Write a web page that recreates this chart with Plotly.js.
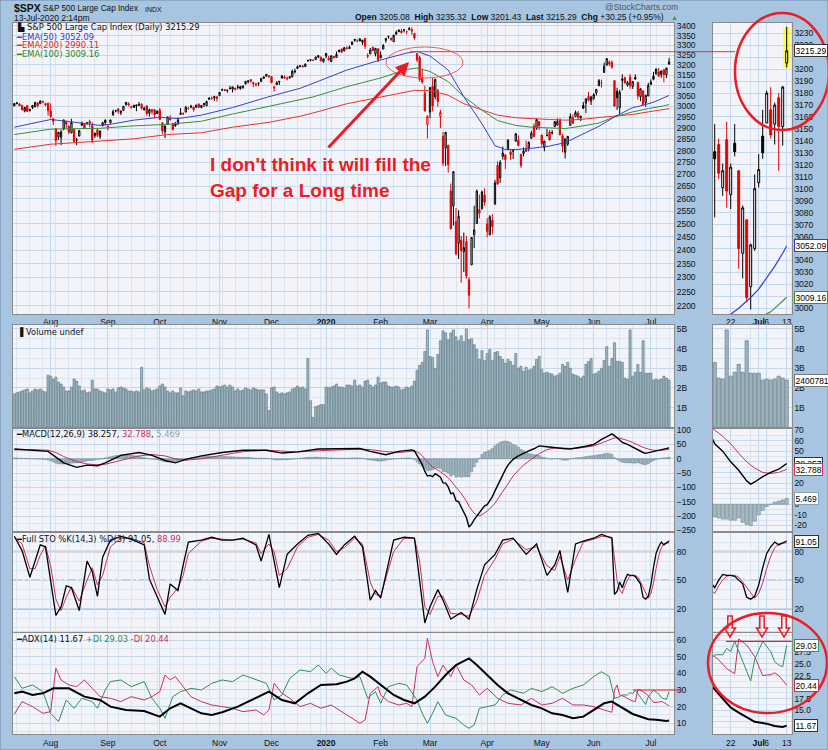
<!DOCTYPE html>
<html><head><meta charset="utf-8">
<script src="https://cdn.plot.ly/plotly-3.0.1.min.js"></script>
<style>html,body{margin:0;padding:0;background:#a7c4e0;}#chart{width:828px;height:750px;}</style>
</head><body><div id="chart"></div>
<script>
// ---------------- DATA ----------------
const dates = [
'2019-07-12','2019-07-15','2019-07-16','2019-07-17','2019-07-18','2019-07-19','2019-07-22','2019-07-23','2019-07-24','2019-07-25','2019-07-26','2019-07-29','2019-07-30','2019-07-31',
'2019-08-01','2019-08-02','2019-08-05','2019-08-06','2019-08-07','2019-08-08','2019-08-09','2019-08-12','2019-08-13','2019-08-14','2019-08-15','2019-08-16','2019-08-19','2019-08-20','2019-08-21','2019-08-22','2019-08-23','2019-08-26','2019-08-27','2019-08-28','2019-08-29','2019-08-30',
'2019-09-03','2019-09-04','2019-09-05','2019-09-06','2019-09-09','2019-09-10','2019-09-11','2019-09-12','2019-09-13','2019-09-16','2019-09-17','2019-09-18','2019-09-19','2019-09-20','2019-09-23','2019-09-24','2019-09-25','2019-09-26','2019-09-27','2019-09-30',
'2019-10-01','2019-10-02','2019-10-03','2019-10-04','2019-10-07','2019-10-08','2019-10-09','2019-10-10','2019-10-11','2019-10-14','2019-10-15','2019-10-16','2019-10-17','2019-10-18','2019-10-21','2019-10-22','2019-10-23','2019-10-24','2019-10-25','2019-10-28','2019-10-29','2019-10-30','2019-10-31',
'2019-11-01','2019-11-04','2019-11-05','2019-11-06','2019-11-07','2019-11-08','2019-11-11','2019-11-12','2019-11-13','2019-11-14','2019-11-15','2019-11-18','2019-11-19','2019-11-20','2019-11-21','2019-11-22','2019-11-25','2019-11-26','2019-11-27','2019-11-29',
'2019-12-02','2019-12-03','2019-12-04','2019-12-05','2019-12-06','2019-12-09','2019-12-10','2019-12-11','2019-12-12','2019-12-13','2019-12-16','2019-12-17','2019-12-18','2019-12-19','2019-12-20','2019-12-23','2019-12-24','2019-12-26','2019-12-27','2019-12-30','2019-12-31',
'2020-01-02','2020-01-03','2020-01-06','2020-01-07','2020-01-08','2020-01-09','2020-01-10','2020-01-13','2020-01-14','2020-01-15','2020-01-16','2020-01-17','2020-01-21','2020-01-22','2020-01-23','2020-01-24','2020-01-27','2020-01-28','2020-01-29','2020-01-30','2020-01-31',
'2020-02-03','2020-02-04','2020-02-05','2020-02-06','2020-02-07','2020-02-10','2020-02-11','2020-02-12','2020-02-13','2020-02-14','2020-02-18','2020-02-19','2020-02-20','2020-02-21','2020-02-24','2020-02-25','2020-02-26','2020-02-27','2020-02-28',
'2020-03-02','2020-03-03','2020-03-04','2020-03-05','2020-03-06','2020-03-09','2020-03-10','2020-03-11','2020-03-12','2020-03-13','2020-03-16','2020-03-17','2020-03-18','2020-03-19','2020-03-20','2020-03-23','2020-03-24','2020-03-25','2020-03-26','2020-03-27','2020-03-30','2020-03-31',
'2020-04-01','2020-04-02','2020-04-03','2020-04-06','2020-04-07','2020-04-08','2020-04-09','2020-04-13','2020-04-14','2020-04-15','2020-04-16','2020-04-17','2020-04-20','2020-04-21','2020-04-22','2020-04-23','2020-04-24','2020-04-27','2020-04-28','2020-04-29','2020-04-30',
'2020-05-01','2020-05-04','2020-05-05','2020-05-06','2020-05-07','2020-05-08','2020-05-11','2020-05-12','2020-05-13','2020-05-14','2020-05-15','2020-05-18','2020-05-19','2020-05-20','2020-05-21','2020-05-22','2020-05-26','2020-05-27','2020-05-28','2020-05-29',
'2020-06-01','2020-06-02','2020-06-03','2020-06-04','2020-06-05','2020-06-08','2020-06-09','2020-06-10','2020-06-11','2020-06-12','2020-06-15','2020-06-16','2020-06-17','2020-06-18','2020-06-19','2020-06-22','2020-06-23','2020-06-24','2020-06-25','2020-06-26','2020-06-29','2020-06-30',
'2020-07-01','2020-07-02','2020-07-06','2020-07-07','2020-07-08','2020-07-09','2020-07-10','2020-07-13'];

const openP = [3003,3018,3012,3006,2979,3004,2982,2995,2999,3017,3013,3024,3007,3016,
2980,2943,2898,2862,2858,2897,2930,2910,2880,2895,2847,2865,2913,2919,2922,2931,2912,2867,2893,2862,2911,2937,
2909,2925,2960,2980,2989,2971,2982,3019,3013,2997,2996,3002,3010,3009,2984,3002,2969,2986,2985,2967,
2983,2925,2885,2918,2945,2921,2911,2919,2963,2966,2974,2990,3001,2996,2996,3011,2995,3014,3004,3033,3036,3040,3046,
3051,3079,3080,3075,3087,3082,3080,3090,3085,3090,3107,3118,3128,3114,3108,3112,3118,3135,3145,3147,
3143,3087,3104,3120,3135,3141,3135,3136,3142,3167,3183,3196,3195,3192,3223,3227,3225,3227,3247,3240,3216,
3245,3226,3218,3242,3238,3267,3281,3272,3285,3283,3303,3324,3321,3331,3315,3334,3248,3256,3289,3256,3282,
3235,3280,3325,3344,3335,3318,3366,3370,3365,3379,3370,3380,3380,3361,3257,3238,3139,3063,2916,
2974,3096,3046,3075,2954,2864,2813,2825,2631,2570,2509,2425,2437,2394,2432,2291,2345,2458,2501,2556,2559,2614,
2499,2458,2514,2578,2738,2685,2776,2783,2805,2796,2799,2842,2846,2785,2788,2810,2812,2855,2910,2901,2931,
2870,2815,2868,2883,2879,2908,2915,2939,2865,2794,2829,2913,2948,2953,2969,2948,3005,3016,3047,3026,
3038,3064,3098,3112,3163,3199,3214,3213,3123,3072,2994,3131,3137,3101,3141,3095,3138,3115,3046,3074,3018,3050,
3105,3144,3155,3166,3154,3176,3152,3205.08];

const highP = [3014,3018,3015,3006,2999,3006,2990,3005,3020,3017,3028,3026,3018,3017,
3014,2945,2898,2884,2892,2939,2935,2911,2943,2895,2857,2893,2931,2923,2929,2939,2927,2880,2898,2890,2930,2940,
2914,2938,2985,2985,2990,2980,3001,3022,3020,3002,3006,3008,3021,3016,2999,3007,2990,2987,2988,2983,
2993,2925,2911,2953,2959,2925,2929,2949,2993,2973,3003,2998,3008,3000,3007,3014,3005,3016,3027,3044,3047,3050,3047,
3067,3085,3083,3079,3098,3093,3088,3103,3098,3099,3120,3124,3128,3118,3110,3113,3134,3142,3155,3150,
3145,3095,3120,3120,3150,3149,3143,3145,3177,3182,3198,3198,3199,3206,3226,3227,3226,3240,3248,3240,3232,
3258,3246,3247,3245,3268,3276,3282,3288,3295,3298,3317,3330,3330,3337,3327,3338,3258,3286,3293,3286,3282,
3268,3306,3337,3348,3341,3352,3376,3381,3385,3381,3376,3394,3393,3361,3259,3246,3182,3098,2960,
3091,3137,3130,3084,2985,2883,2882,2825,2661,2711,2562,2553,2453,2466,2453,2300,2449,2571,2637,2616,2632,2642,
2522,2534,2538,2676,2756,2760,2819,2783,2852,2802,2807,2880,2868,2786,2815,2845,2842,2888,2922,2945,2931,
2870,2844,2898,2892,2892,2932,2945,2945,2875,2853,2865,2968,2964,2981,2979,2957,3021,3037,3069,3050,
3063,3082,3131,3128,3212,3233,3223,3223,3123,3089,3079,3154,3142,3121,3156,3121,3154,3115,3086,3074,3054,3112,
3129,3166,3182,3185,3172,3180,3186,3235.32];

const lowP = [3001,3010,3002,2984,2973,2976,2977,2988,2996,2995,3012,3015,3001,2958,
2945,2914,2822,2848,2825,2891,2900,2873,2877,2840,2825,2865,2913,2899,2917,2904,2834,2857,2861,2853,2911,2913,
2891,2921,2960,2973,2966,2960,2982,3003,3001,2990,2993,2978,3004,2985,2982,2957,2953,2963,2946,2967,
2938,2874,2856,2918,2935,2892,2907,2917,2963,2962,2973,2986,2992,2976,2995,2995,2992,2997,3001,3033,3034,3026,3023,
3051,3074,3073,3065,3080,3066,3076,3081,3079,3083,3104,3110,3113,3091,3094,3097,3118,3131,3143,3139,
3110,3070,3103,3102,3134,3136,3125,3133,3139,3157,3183,3189,3190,3192,3216,3218,3220,3227,3235,3217,3212,
3235,3222,3214,3233,3236,3263,3260,3268,3278,3280,3302,3318,3316,3321,3302,3280,3234,3254,3271,3243,3214,
3235,3280,3313,3333,3323,3318,3352,3369,3360,3366,3356,3379,3354,3328,3214,3118,3108,2977,2855,
2946,2977,3034,2999,2901,2735,2735,2707,2478,2493,2380,2367,2281,2319,2295,2192,2345,2407,2501,2521,2556,2571,
2448,2455,2459,2575,2657,2664,2762,2722,2805,2760,2765,2842,2820,2727,2776,2795,2798,2855,2860,2893,2892,
2822,2798,2863,2845,2871,2906,2912,2870,2794,2767,2822,2913,2922,2953,2939,2933,2988,2970,3024,3007,
3031,3052,3098,3091,3163,3197,3194,3181,2999,2984,2965,3076,3108,3094,3084,3083,3127,3033,3025,3005,2999,3048,
3101,3125,3155,3142,3137,3115,3136,3201.43];

const closeP = [3014,3014,3004,2984,2995,2977,2985,3005,3020,3004,3026,3021,3013,2980,
2954,2932,2845,2882,2884,2938,2919,2883,2926,2841,2848,2889,2924,2901,2924,2923,2847,2878,2869,2888,2925,2926,
2906,2938,2976,2979,2978,2979,3001,3010,3007,2998,3006,3007,3007,2992,2992,2967,2985,2978,2962,2977,
2940,2888,2911,2952,2939,2893,2919,2938,2970,2966,2996,2990,2998,2986,3007,2996,3005,3010,3023,3039,3037,3047,3038,
3067,3078,3075,3077,3085,3093,3087,3092,3094,3097,3120,3122,3120,3108,3104,3110,3134,3141,3154,3141,
3114,3093,3113,3117,3146,3136,3133,3142,3169,3169,3191,3193,3191,3205,3221,3224,3223,3240,3240,3221,3231,
3258,3235,3246,3237,3253,3275,3265,3288,3283,3289,3317,3330,3321,3322,3326,3295,3244,3276,3273,3284,3226,
3249,3298,3335,3346,3328,3352,3358,3379,3374,3380,3370,3386,3373,3338,3226,3128,3116,2979,2954,
3090,3003,3130,3024,2972,2747,2882,2741,2481,2711,2386,2529,2398,2409,2305,2237,2447,2476,2630,2541,2627,2585,
2471,2527,2489,2664,2659,2750,2790,2762,2846,2783,2800,2875,2823,2737,2799,2798,2837,2878,2863,2940,2912,
2831,2843,2868,2848,2881,2930,2930,2870,2820,2853,2864,2954,2923,2972,2949,2955,2992,3036,3030,3044,
3056,3081,3123,3112,3194,3232,3207,3190,3002,3041,3067,3125,3113,3115,3098,3118,3131,3050,3084,3009,3053,3100,
3116,3130,3180,3145,3170,3152,3185.04,3215.29];

// volume in billions
const volume = [1.7,1.75,1.8,1.85,1.9,1.95,1.75,1.85,1.95,1.9,1.95,1.85,1.8,2.65,
2.6,2.45,2.55,2.3,2.2,2.05,1.85,1.85,2.05,2.45,2.35,2.1,1.85,1.9,1.75,1.8,2.4,1.95,1.95,1.85,1.8,1.75,
1.95,1.9,1.95,1.8,2.0,2.05,2.0,1.95,1.85,1.85,1.8,1.85,1.8,3.05,1.9,2.0,1.95,1.85,1.9,1.95,
2.1,2.2,2.05,1.85,1.75,1.85,1.75,1.75,2.0,1.6,1.85,1.8,1.85,1.9,1.85,1.95,1.8,1.8,1.85,1.85,1.9,1.95,2.1,
2.05,2.1,2.15,2.05,2.15,2.05,1.85,1.95,1.85,1.9,2.0,1.95,1.9,2.0,1.95,1.9,1.9,1.9,1.7,0.85,
2.0,2.05,1.8,1.7,1.75,1.7,1.75,1.8,1.95,2.0,2.1,2.0,2.05,1.95,3.5,1.35,0.5,1.05,1.1,1.15,1.15,
2.05,2.0,2.05,2.1,2.2,2.05,2.05,2.0,2.15,2.15,2.1,2.4,2.1,2.15,2.05,2.35,2.4,2.15,2.05,2.15,2.55,
2.25,2.3,2.3,2.1,2.05,2.05,2.1,2.05,1.9,1.95,2.05,2.0,2.1,2.35,2.9,3.15,3.3,3.85,4.95,
3.6,3.55,3.0,3.7,4.4,4.9,4.8,4.45,4.8,4.95,4.6,4.4,4.65,4.35,5.0,4.45,4.5,4.2,3.95,3.45,3.9,3.4,
3.75,3.95,3.4,3.8,3.85,3.6,3.45,3.25,3.45,3.35,3.15,3.75,3.0,3.1,2.85,3.05,2.9,2.95,3.1,3.45,3.6,
2.95,2.75,2.8,2.75,2.7,2.6,2.65,2.75,3.2,3.1,3.3,3.0,2.7,2.65,2.6,2.5,2.6,3.2,3.35,3.5,
2.7,2.75,2.85,3.0,3.4,4.1,3.1,3.5,4.3,3.35,3.35,3.3,2.5,2.45,4.95,2.6,2.8,3.2,2.8,4.4,2.75,2.75,
2.75,2.4,2.45,2.4,2.45,2.6,2.5,2.4];

const macdHist = [3,3,2,2,1,1,0,0,0,-1,-1,-2,-2,-4,
-7,-11,-15,-17,-18,-18,-17,-16,-15,-14,-14,-13,-11,-9,-7,-6,-6,-4,-2,-1,1,3,
5,7,9,11,12,13,14,14,13,12,11,10,8,6,4,2,0,-1,-2,-3,
-5,-8,-10,-11,-10,-10,-9,-7,-4,-2,0,2,4,5,6,7,8,9,9,9,9,8,8,
8,8,8,7,7,7,6,6,5,5,5,5,4,3,2,2,2,2,2,1,
-1,-3,-4,-4,-3,-3,-3,-2,-1,0,1,2,3,4,5,5,5,6,5,4,4,
4,3,3,2,2,2,2,2,2,2,3,3,3,2,2,0,-3,-4,-5,-6,-8,
-8,-7,-5,-3,-2,-1,0,1,2,2,3,3,2,-2,-10,-18,-26,-35,-42,
-40,-38,-30,-32,-34,-44,-45,-50,-60,-55,-64,-62,-64,-62,-63,-62,-45,-28,-12,2,15,22,
25,30,36,45,52,58,61,62,60,56,50,46,40,32,28,22,18,16,14,14,11,
6,4,2,0,-1,0,1,-1,-4,-5,-4,0,2,3,4,4,6,8,9,10,
11,12,14,15,17,19,18,15,4,-2,-8,-12,-13,-14,-14,-15,-15,-13,-17,-19,-20,-16,
-10,-6,-2,0,2,3,4,5.469];

const ema50Idx = [0,14,20,33,37,46,56,63,72,84,98,110,115,128,141,151,155,160,167,173,180,185,189,193,199,206,212,218,225,231,238,240,243,245,247,249,251,252];
const ema50Val = [2905,2940,2932,2913,2918,2937,2950,2944,2960,2995,3046,3086,3110,3175,3225,3260,3268,3245,3175,3046,2920,2823,2806,2806,2811,2821,2836,2871,2909,2952,2995,3000,3009,3016,3025,3035,3046,3052.09];
const ema100Idx = [0,14,33,46,59,72,84,98,110,115,128,141,151,155,160,167,173,180,186,193,199,206,212,218,225,231,238,244,248,250,252];
const ema100Val = [2872,2896,2900,2911,2918,2932,2965,3000,3030,3045,3094,3136,3178,3185,3168,3118,3046,2983,2935,2913,2905,2903,2899,2909,2924,2952,2975,2990,2997,3003,3009.16];
const ema200Idx = [0,14,33,46,59,72,84,98,110,115,128,141,154,160,167,173,180,186,193,199,206,212,218,225,231,238,244,248,252];
const ema200Val = [2807,2829,2843,2853,2872,2880,2905,2927,2955,2970,3013,3045,3076,3076,3053,3013,2983,2960,2948,2943,2940,2937,2940,2949,2955,2963,2975,2982,2990.11];

const macdIdx = [0,7,13,16,19,24,28,32,35,41,48,53,58,62,66,72,80,88,97,103,109,117,125,133,137,143,148,153,154,155,156,157,158,159,160,161,162,163,164,165,166,167,168,169,170,171,172,173,174,175,176,177,178,179,180,181,182,183,184,185,186,187,188,189,190,192,194,196,198,200,202,205,208,211,214,217,220,223,226,229,230,232,234,236,238,240,242,243,244,246,248,250,252];
const macdVal = [34,30,26,6,-14,-30,-22,-24,-14,12,22,12,-6,-14,-2,10,22,30,30,20,24,34,34,36,26,14,26,31,28,14,-4,-20,-44,-60,-58,-62,-52,-58,-64,-84,-85,-98,-122,-120,-146,-150,-170,-185,-205,-238,-228,-212,-200,-188,-172,-164,-160,-146,-132,-112,-92,-72,-55,-38,-22,-2,10,20,28,35,45,42,38,36,34,38,44,50,68,82,87,74,57,50,40,32,22,19,21,26,30,33,38.257];
const signalIdx = [0,7,13,16,19,24,28,32,35,41,48,53,58,62,66,72,80,88,97,103,109,117,125,133,137,143,148,154,155,156,157,158,159,161,163,165,167,168,170,172,174,175,176,177,178,179,180,182,185,188,190,192,194,196,198,200,202,205,208,211,214,217,220,223,226,229,231,233,234,236,238,240,242,244,246,248,250,252];
const signalVal = [31,32,30,22,8,-10,-18,-21,-19,-6,10,15,10,0,-5,0,12,25,30,26,24,28,32,34,32,25,22,27,24,19,11,0,-12,-29,-39,-52,-66,-77,-98,-121,-148,-166,-178,-190,-197,-199,-195,-183,-155,-115,-85,-60,-40,-22,-8,5,18,32,38,38,36,37,40,45,55,66,73,72,70,64,57,48,40,34,30,29,30,32.788];

const stoIdx = [0,3,6,8,10,12,14,16,18,20,22,25,28,30,32,34,37,41,45,50,52,55,58,60,63,65,67,72,76,80,84,88,93,95,98,100,102,105,109,113,117,121,124,127,131,134,137,139,141,146,150,154,156,158,160,163,165,168,172,175,178,181,185,188,192,197,201,205,208,210,213,216,219,223,226,230,231,232,233,234,235,236,237,238,239,240,241,242,243,244,245,246,247,248,249,250,251,252];
const stoK = [96,81,53,70,87,85,51,13,22,44,42,18,70,59,33,74,92,96,93,87,51,33,14,46,39,66,90,92,95,92,92,94,87,70,98,70,42,77,88,97,99,88,77,87,96,85,29,39,31,92,95,94,51,5,22,40,29,9,16,9,40,66,77,92,94,77,88,55,66,81,37,88,91,94,98,94,35,38,48,42,50,56,55,55,54,50,46,32,30,33,45,63,78,85,90,87,89,91.05];
const stoD = [95,88,62,62,76,86,65,30,18,32,43,28,50,63,45,55,85,94,94,89,65,40,22,32,42,55,78,91,94,93,92,93,89,78,88,80,55,62,85,95,98,92,80,84,94,88,48,35,33,80,94,94,70,22,14,33,33,15,14,12,28,55,72,88,93,82,85,65,60,75,50,72,90,93,96,95,70,50,40,36,44,50,54,55,55,53,48,42,36,31,36,47,62,75,84,88,89,88.99];

const adxIdx = [0,3,7,11,15,21,27,33,37,43,50,54,56,60,64,68,72,76,80,86,93,98,103,108,113,118,124,128,131,134,137,141,146,150,154,158,162,166,170,175,178,182,186,190,195,199,203,207,211,215,219,223,227,230,234,236,238,240,242,244,247,249,251,252];
const adxVal = [28,29,27,28,31,31,26,24,20,18,17.4,15,14,19,22,19,16,15,16.6,20,25,29,24,22,28,33,33.4,35,37,41,38,33,27,24,22,26,32,39,45,49,45,39,33,28,24,21,19,16,15,13,14,18,22,23,19.5,17.5,15.6,14.5,13.5,12.5,12.1,11.6,11.4,11.67];
const pdiIdx = [0,3,7,11,14,17,20,23,26,30,32,35,37,41,45,50,53,56,58,61,64,68,72,76,80,84,88,93,97,100,103,106,110,114,117,120,122,125,130,133,136,139,141,144,148,151,155,157,159,161,163,166,170,173,175,177,179,182,185,188,191,196,199,203,207,211,215,219,223,226,229,231,233,234,236,237,238,239,241,243,244,246,248,249,250,251,252];
const pdiVal = [38,31,33,29,16,11,24,19,25,23,19,30,35,36,32,35,25,19,13,26,29,31,30,34,36,35,39,36,34,24,27,37,42,41,45,40,43,39,37,38,25,29,22,32,34,33,24,16,10,16,23,15,13,9,7,9,19,20,21,27,30,28,31,29,32,28,31,33,38,41,38,25,26,27,27,28.4,27.7,29.9,25.6,21.3,26,29.9,27.7,25.5,24.8,24.4,29.03];
const mdiIdx = [0,3,7,11,14,16,18,21,24,27,30,33,37,41,45,50,53,56,58,60,62,65,68,72,76,80,84,88,93,96,98,100,103,106,110,114,118,122,125,130,133,135,137,140,141,144,148,151,153,155,158,159,161,163,165,168,170,173,176,179,182,186,190,195,199,203,207,211,215,219,223,227,230,231,232,233,234,235,237,239,240,242,244,246,248,249,250,252];
const mdiVal = [15.4,23,20,16,17,43,36,33,32,36,31,26,25,23,26,24,26,29,39,36,38,32,26,23,21,20,19,17,18,15,18,34,28,25,20,22,19,21,18,13,10,12,28,32,27,23,21,22,20,44,49,61,47,38,45,38,45,36,33,27,31,25,22,21,25,21,22,25,21,21,20,18,16.6,30,33,27,26.6,25.9,24,22.9,30.4,29.1,26.6,22.5,22.7,23.1,22.5,20.44];

// tick labels
const priceTicks = [2200,2250,2300,2350,2400,2450,2500,2550,2600,2650,2700,2750,2800,2850,2900,2950,3000,3050,3100,3150,3200,3250,3300,3350,3400];
const miniPriceTicks = [3000,3010,3020,3030,3040,3050,3060,3070,3080,3090,3100,3110,3120,3130,3140,3150,3160,3170,3180,3190,3200,3210,3220,3230];
const miniPriceText = ['3000','','3020','3030','3040','','3060','3070','3080','3090','3100','3110','3120','3130','3140','3150','3160','3170','3180','3190','3200','','3220','3230'];
const volTicks = [1,2,3,4,5];
const volTickText = ['1B','2B','3B','4B','5B'];
const macdTicks = [-250,-200,-150,-100,-50,0,50,100];
const miniMacdTicks = [-20,-10,0,10,20,30,40,50,60,70];
const miniMacdText = ['-20','-10','0','','20','','','50','60','70'];
const stoTicks = [20,50,80];
const adxTicks = [10,20,30,40,50,60];
const miniAdxTicks = [12.5,15,17.5,20,22.5,25,27.5,30];
const miniAdxText = ['','15.0','17.5','','22.5','25.0','27.5',''];
const monthNames = ['Jan','Feb','Mar','Apr','May','Jun','Jul','Aug','Sep','Oct','Nov','Dec'];
const miniTickDates = ['2020-06-22','2020-07-01','2020-07-06','2020-07-13'];
const miniTickText = ['22','<b>Jul</b>','6','13'];

// ---------------- BUILD ----------------
const N = dates.length;
const X = dates.map((d, i) => i);
const dow = d => new Date(d + 'T00:00:00Z').getUTCDay();
const monthIdx = [], monthText = [], weekIdx = [];
for (let i = 1; i < N; i++) {
  if (dates[i].slice(5, 7) !== dates[i - 1].slice(5, 7)) {
    monthIdx.push(i);
    const m = +dates[i].slice(5, 7) - 1;
    monthText.push(m === 0 ? '<b>' + dates[i].slice(0, 4) + '</b>' : monthNames[m]);
  }
  if (dow(dates[i]) < dow(dates[i - 1])) weekIdx.push(i);
}
const miniTickIdx = miniTickDates.map(d => dates.indexOf(d));

const grpUp = {x: [], o: [], h: [], l: [], c: []}, grpDn = {x: [], o: [], h: [], l: [], c: []};
for (let i = 0; i < N; i++) {
  const prev = i ? closeP[i - 1] : openP[i];
  const g = closeP[i] >= prev ? grpUp : grpDn;
  g.x.push(i); g.o.push(openP[i]); g.h.push(highP[i]); g.l.push(lowP[i]); g.c.push(closeP[i]);
}
function candle(g, color, xa, ya) {
  return {type: 'candlestick', x: g.x, open: g.o, high: g.h, low: g.l, close: g.c, xaxis: xa, yaxis: ya,
    increasing: {line: {color: color, width: 1}, fillcolor: '#ffffff'},
    decreasing: {line: {color: color, width: 1}, fillcolor: color},
    whiskerwidth: 0, hoverinfo: 'skip', showlegend: false};
}
function line(xs, ys, color, width, xa, ya) {
  return {type: 'scatter', mode: 'lines', x: xs, y: ys, xaxis: xa, yaxis: ya, line: {color: color, width: width}, hoverinfo: 'skip', showlegend: false};
}
function bars(ys, fill, edge, xa, ya) {
  return {type: 'bar', x: X, y: ys, xaxis: xa, yaxis: ya, marker: {color: fill, line: {color: edge, width: 0.6}}, hoverinfo: 'skip', showlegend: false};
}
const RED = '#c8305e', GREEN = '#2f8f55';
const data = [];
[['x', 'y', 'x2', 'y2', 'y3', 'y4', 'y5', 1.0], ['x3', 'y6', 'x4', 'y7', 'y8', 'y9', 'y10', 1.2]].forEach(p => {
  const [xp, yp, xl, yv, ym, ys, ya, w] = p;
  data.push(line(ema200Idx, ema200Val, '#e8322e', w, xp, yp));
  data.push(line(ema100Idx, ema100Val, '#3c8c3c', w, xp, yp));
  data.push(line(ema50Idx, ema50Val, '#3441c4', w, xp, yp));
  data.push(candle(grpUp, '#000000', xp, yp));
  data.push(candle(grpDn, '#e60000', xp, yp));
  data.push(bars(volume, '#9fb6c0', '#56727e', xl, yv));
  data.push(bars(macdHist, '#a8bcc6', '#6d8792', xl, ym));
  data.push(line(signalIdx, signalVal, RED, 1, xl, ym));
  data.push(line(macdIdx, macdVal, '#000000', 1.4, xl, ym));
  data.push(line(stoIdx, stoD, RED, 1, xl, ys));
  data.push(line(stoIdx, stoK, '#000000', 1.3, xl, ys));
  data.push(line(pdiIdx, pdiVal, GREEN, 1, xl, ya));
  data.push(line(mdiIdx, mdiVal, RED, 1, xl, ya));
  data.push(line(adxIdx, adxVal, '#000000', 2, xl, ya));
});

const W = 828, H = 750;
const px = v => v / W, py = v => 1 - v / H;
const MX = [px(13), px(674)], SX = [px(712.7), px(791.7)];
const D = {price: [py(314), py(23)], vol: [py(427.3), py(325)], macd: [py(531), py(429)], sto: [py(631.5), py(532.5)], adx: [py(734.3), py(633)]};
const tf = {family: 'Liberation Sans, Arial, sans-serif', size: 8.5, color: '#111'};
const GRID = '#c4d9ed', MINOR = '#d9e6f2', LINE = '#8a8a8a';
function xAx(domain, anchor, range, tv, tt) {
  return {domain: domain, anchor: anchor, range: range, tickmode: 'array', tickvals: tv, ticktext: tt, ticks: '',
    tickangle: 0, automargin: false,
    showgrid: true, gridcolor: GRID, gridwidth: 1,
    minor: {tickmode: 'array', tickvals: weekIdx, showgrid: true, gridcolor: MINOR, ticks: ''},
    showline: true, linecolor: LINE, linewidth: 1, mirror: 'all', zeroline: false, tickfont: tf,
    fixedrange: true, rangeslider: {visible: false}};
}
function yAx(domain, anchor, range, tv, tt, extra) {
  return Object.assign({domain: domain, anchor: anchor, range: range, side: 'right', tickmode: 'array', tickvals: tv, ticktext: tt,
    ticks: '', showgrid: true, gridcolor: GRID, showline: true, linecolor: LINE, linewidth: 1, mirror: true,
    zeroline: false, tickfont: tf, fixedrange: true, automargin: false}, extra || {});
}
const logRange = [3.3370, 3.5335];
const layout = {
  width: W, height: H, margin: {l: 0, r: 0, t: 0, b: 0},
  paper_bgcolor: '#a7c4e0', plot_bgcolor: '#f3f4f9', showlegend: false, bargap: 0.18,
  font: {family: 'Liberation Sans, Arial, sans-serif', size: 9, color: '#111'},
  xaxis: xAx(MX, 'y', [-0.5, 253.9], monthIdx, monthText),
  xaxis2: xAx(MX, 'y5', [-0.5, 253.9], monthIdx, monthText),
  xaxis3: xAx(SX, 'y6', [233.5, 253.25], miniTickIdx, miniTickText),
  xaxis4: xAx(SX, 'y10', [233.5, 253.25], miniTickIdx, miniTickText),
  yaxis: yAx(D.price, 'x', logRange, priceTicks, undefined, {type: 'log'}),
  yaxis2: yAx(D.vol, 'x2', [0, 5.2], volTicks, volTickText, {minor: {dtick: 0.5, showgrid: true, gridcolor: MINOR}}),
  yaxis3: yAx(D.macd, 'x2', [-252, 104], macdTicks, undefined, {minor: {dtick: 25, showgrid: true, gridcolor: MINOR}}),
  yaxis4: yAx(D.sto, 'x2', [-4, 100], stoTicks, undefined, {minor: {dtick: 10, showgrid: true, gridcolor: MINOR}}),
  yaxis5: yAx(D.adx, 'x2', [3.4, 64.2], adxTicks, undefined, {minor: {dtick: 5, showgrid: true, gridcolor: MINOR}}),
  yaxis6: yAx(D.price, 'x3', [2995.2, 3238.6], miniPriceTicks, miniPriceText),
  yaxis7: yAx(D.vol, 'x4', [0, 5.2], volTicks, volTickText, {minor: {dtick: 0.5, showgrid: true, gridcolor: MINOR}}),
  yaxis8: yAx(D.macd, 'x4', [-25.2, 70.9], miniMacdTicks, miniMacdText, {minor: {dtick: 5, showgrid: true, gridcolor: MINOR}}),
  yaxis9: yAx(D.sto, 'x4', [-4, 100], stoTicks, undefined, {minor: {dtick: 10, showgrid: true, gridcolor: MINOR}}),
  yaxis10: yAx(D.adx, 'x4', [9.8, 31.7], miniAdxTicks, miniAdxText, {minor: {dtick: 1.25, showgrid: true, gridcolor: MINOR}})
};

const RR = '#ec1c24';
const last = N - 1;
const shapes = [];
// yellow highlight of the current bar
shapes.push({type: 'rect', xref: 'x', yref: 'y', x0: last - 0.65, x1: last + 0.65, y0: Math.log10(lowP[last]), y1: Math.log10(highP[last]), fillcolor: '#ffff33', line: {width: 0}, layer: 'below'});
shapes.push({type: 'rect', xref: 'x3', yref: 'y6', x0: last - 0.9, x1: last + 0.9, y0: lowP[last], y1: highP[last], fillcolor: '#ffff33', line: {width: 0}, layer: 'below'});
// stochastic reference lines
[['x2 domain', 'y4'], ['x4 domain', 'y9']].forEach(r => {
  [80, 20].forEach(v => shapes.push({type: 'line', xref: r[0], yref: r[1], x0: 0, x1: 1, y0: v, y1: v, line: {color: '#8f8f8f', width: 1.5}, layer: 'below'}));
  shapes.push({type: 'line', xref: r[0], yref: r[1], x0: 0, x1: 1, y0: 50, y1: 50, line: {color: '#8f8f8f', width: 1, dash: 'dashdot'}, layer: 'below'});
});
// red hand-drawn annotations
shapes.push({type: 'circle', xref: 'paper', yref: 'paper', x0: px(386), x1: px(463), y0: py(78), y1: py(47), line: {color: '#f05a5a', width: 1}});
shapes.push({type: 'line', xref: 'paper', yref: 'paper', x0: px(410), x1: px(735), y0: py(51.7), y1: py(51.7), line: {color: '#e03a3a', width: 1}});
shapes.push({type: 'circle', xref: 'paper', yref: 'paper', x0: px(735), x1: px(829), y0: py(130), y1: py(13), line: {color: RR, width: 2.5}});
shapes.push({type: 'circle', xref: 'paper', yref: 'paper', x0: px(708), x1: px(827), y0: py(713), y1: py(613), line: {color: RR, width: 2.5}});
shapes.push({type: 'line', xref: 'paper', yref: 'y5', x0: px(633), x1: px(682), y0: 30, y1: 30, line: {color: RR, width: 1.2}});
shapes.push({type: 'line', xref: 'paper', yref: 'y10', x0: px(726), x1: px(791.7), y0: 29.9, y1: 29.9, line: {color: RR, width: 1.2}});
[730, 762, 784].forEach(cx => {
  const pts = [[cx - 2.2, 616], [cx - 2.2, 628], [cx - 5.5, 628], [cx, 637], [cx + 5.5, 628], [cx + 2.2, 628], [cx + 2.2, 616]];
  const path = 'M' + pts.map(p => px(p[0]).toFixed(5) + ',' + py(p[1]).toFixed(5)).join(' L') + ' Z';
  shapes.push({type: 'path', xref: 'paper', yref: 'paper', path: path, line: {color: RR, width: 1.5}, fillcolor: 'rgba(255,255,255,0)'});
});
shapes.push({type: 'rect', xref: 'paper', yref: 'paper', x0: 0, x1: 1, y0: 0, y1: 1, line: {color: '#6f8cab', width: 1}});
layout.shapes = shapes;

const LF = 'DejaVu Sans, Verdana, sans-serif';
function T(x, y, text, size, color, extra) {
  return Object.assign({xref: 'paper', yref: 'paper', x: px(x), y: py(y), text: text, showarrow: false, xanchor: 'left', yanchor: 'middle',
    font: {family: 'Liberation Sans, Arial, sans-serif', size: size, color: color || '#111'}}, extra || {});
}
function L(x, y, text, color) { return T(x, y, text, 8.3, color, {font: {family: LF, size: 8.3, color: color || '#111'}}); }
function box(yref, y, text, border) {
  return {xref: 'paper', yref: yref, x: px(793.5), y: y, text: text, showarrow: false, xanchor: 'left', yanchor: 'middle',
    font: {family: 'Liberation Sans, Arial, sans-serif', size: 8.5, color: '#000'}, bgcolor: '#ffffff', bordercolor: border, borderwidth: 1, borderpad: 0.5};
}
const lastClose = closeP[last];
const chg = lastClose - closeP[last - 1];
const ann = [
  T(12, 8, '<b>$SPX</b>', 10.5),
  T(41, 8.5, 'S&P 500 Large Cap Index', 8.2),
  T(143, 9, 'INDX', 7),
  T(12, 18, '13-Jul-2020 2:14pm', 8.5),
  T(603, 7, '@StockCharts.com', 8.5, '#555'),
  T(666, 17.5, '<b>Open</b> ' + openP[last].toFixed(2) + '  <b>High</b> ' + highP[last].toFixed(2) + '  <b>Low</b> ' + lowP[last].toFixed(2) + '  <b>Last</b> ' + lastClose.toFixed(2) + '  <b>Chg</b> +' + chg.toFixed(2) + ' (+' + (chg / closeP[last - 1] * 100).toFixed(2) + '%)', 8.5, '#111', {xanchor: 'right'}),
  T(669, 17.5, '▲', 7, '#2ca02c'),
  L(15, 28, '<b>▙</b> S&P 500 Large Cap Index (Daily) ' + lastClose.toFixed(2)),
  L(14, 37, '<b>━</b>EMA(50) ' + ema50Val[ema50Val.length - 1].toFixed(2), '#3a3ac8'),
  L(14, 45.5, '<b>━</b>EMA(200) ' + ema200Val[ema200Val.length - 1].toFixed(2), '#e02424'),
  L(14, 54, '<b>━</b>EMA(100) ' + ema100Val[ema100Val.length - 1].toFixed(2), '#2a8a2a'),
  L(15, 333, '<b>▐</b> Volume undef'),
  L(14, 434, '<b>━</b>MACD(12,26,9) 38.257, <span style="color:#c8305e">32.788</span>, <span style="color:#8aa2b0">5.469</span>'),
  L(14, 539, '<b>━</b>Full STO %K(14,3) %D(3) 91.05, <span style="color:#c8305e">88.99</span>'),
  L(14, 639, '<b>━</b>ADX(14) 11.67 <span style="color:#2f8f55">+DI 29.03</span> <span style="color:#c8305e">-DI 20.44</span>'),
  T(208, 165, "<b>I don't think it will fill the</b>", 19, RR),
  T(208, 191, '<b>Gap for a Long time</b>', 19, RR),
  {xref: 'paper', yref: 'paper', x: px(409), y: py(62), ax: -82, ay: 87, text: '', showarrow: true, arrowhead: 2, arrowsize: 0.9, arrowwidth: 3, arrowcolor: RR},
  box('y6', lastClose, lastClose.toFixed(2), '#333'),
  box('y6', ema50Val[ema50Val.length - 1], '3052.09', '#3441c4'),
  box('y6', ema100Val[ema100Val.length - 1], '3009.16', '#3c8c3c'),
  box('y7', volume[last], '2400781', '#777'),
  box('y8', macdVal[macdVal.length - 1], '38.257', '#333'),
  box('y8', signalVal[signalVal.length - 1], '32.788', RED),
  box('y8', macdHist[last], '5.469', '#8aa2b0'),
  box('y9', stoK[stoK.length - 1], '91.05', '#333'),
  box('y10', pdiVal[pdiVal.length - 1], '29.03', GREEN),
  box('y10', mdiVal[mdiVal.length - 1], '20.44', RED),
  box('y10', adxVal[adxVal.length - 1], '11.67', '#333')
];
layout.annotations = ann;

Plotly.newPlot('chart', data, layout, {staticPlot: true, displayModeBar: false});
</script>
</body></html>
